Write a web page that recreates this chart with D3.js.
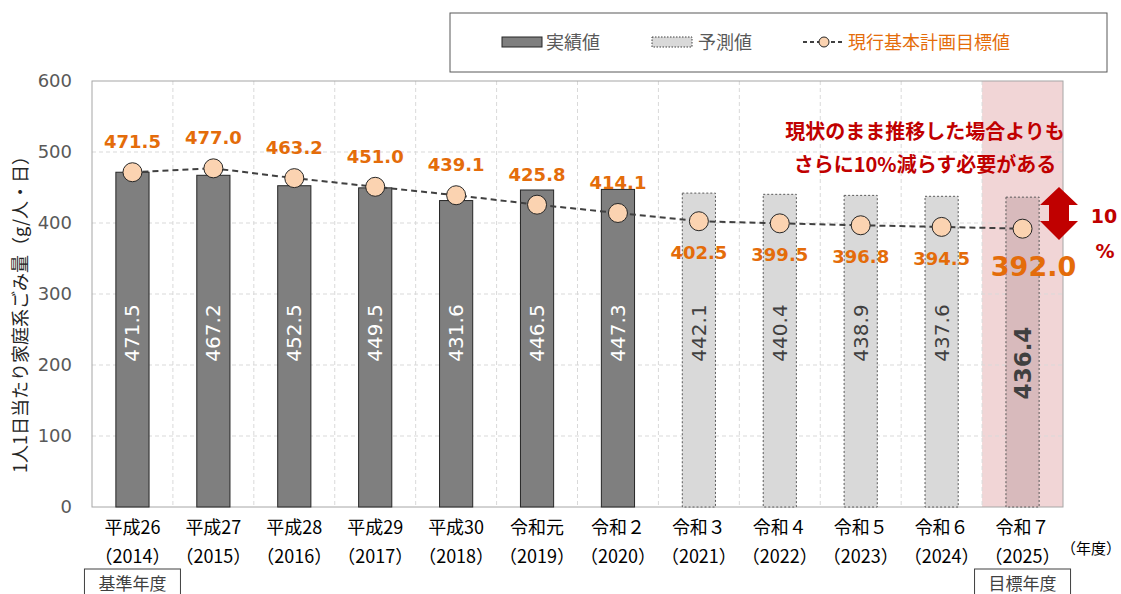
<!DOCTYPE html>
<html>
<head>
<meta charset="utf-8">
<script src="https://cdn.jsdelivr.net/npm/d3@7"></script>
<style>
  body { margin: 0; background: #fff; }
  text { font-family: "DejaVu Sans", "Noto Sans CJK JP", sans-serif; }
  .jp { font-family: "Noto Sans CJK JP", sans-serif; }
</style>
</head>
<body>
<svg id="chart" width="1121" height="594"></svg>
<script>
// categories (two-line labels)
const eraLabels = ['平成26', '平成27', '平成28', '平成29', '平成30', '令和元', '令和２', '令和３', '令和４', '令和５', '令和６', '令和７'];
const yearLabels = ['（2014）', '（2015）', '（2016）', '（2017）', '（2018）', '（2019）', '（2020）', '（2021）', '（2022）', '（2023）', '（2024）', '（2025）'];
// bar values: first 7 actual, rest forecast
const barValues = [471.5, 467.2, 452.5, 449.5, 431.6, 446.5, 447.3, 442.1, 440.4, 438.9, 437.6, 436.4];
const actualCount = 7;
// target line of current basic plan
const targetValues = [471.5, 477.0, 463.2, 451.0, 439.1, 425.8, 414.1, 402.5, 399.5, 396.8, 394.5, 392.0];
const yTicks = [0, 100, 200, 300, 400, 500, 600];

const width = 1121, height = 594;
const margin = { top: 81, right: 58, bottom: 87, left: 92 };
const svg = d3.select('#chart');

const x = d3.scaleBand()
  .domain(d3.range(eraLabels.length))
  .range([margin.left, width - margin.right])
  .paddingInner(0.59).paddingOuter(0.295);
const xCell = d3.scaleBand()
  .domain(d3.range(eraLabels.length))
  .range([margin.left, width - margin.right]);
const y = d3.scaleLinear().domain([0, 600]).range([height - margin.bottom, margin.top]);

const last = eraLabels.length - 1;

// highlight for target year
svg.append('rect')
  .attr('x', xCell(last)).attr('y', y(600))
  .attr('width', xCell.bandwidth()).attr('height', y(0) - y(600))
  .attr('fill', '#f1d5d6');

// grid lines
const grid = svg.append('g');
grid.selectAll('.hg').data(yTicks.slice(1, -1)).join('line')
  .attr('x1', margin.left).attr('x2', width - margin.right)
  .attr('y1', d => y(d)).attr('y2', d => y(d))
  .attr('stroke', '#d9d9d9').attr('stroke-dasharray', '4,3');
grid.selectAll('.vg').data(d3.range(1, eraLabels.length)).join('line')
  .attr('x1', d => xCell(d)).attr('x2', d => xCell(d))
  .attr('y1', y(600)).attr('y2', y(0))
  .attr('stroke', '#d9d9d9').attr('stroke-dasharray', '4,3');

// plot frame
svg.append('rect')
  .attr('x', margin.left).attr('y', y(600))
  .attr('width', width - margin.right - margin.left).attr('height', y(0) - y(600))
  .attr('fill', 'none').attr('stroke', '#a6a6a6').attr('stroke-width', 1);

// bars
svg.selectAll('.bar').data(barValues).join('rect')
  .attr('x', (d, i) => x(i)).attr('y', d => y(d))
  .attr('width', x.bandwidth()).attr('height', d => y(0) - y(d))
  .attr('fill', (d, i) => i < actualCount ? '#7f7f7f' : (i === last ? '#d8babc' : '#d9d9d9'))
  .attr('stroke', (d, i) => i < actualCount ? '#262626' : '#595959')
  .attr('stroke-width', 1)
  .attr('stroke-dasharray', (d, i) => i < actualCount ? null : '2,2');

// bar labels (rotated)
svg.selectAll('.blab').data(barValues).join('text')
  .attr('transform', (d, i) => `translate(${x(i) + x.bandwidth() / 2 + (i === last ? 8 : 7)},${i === last ? 363 : 333}) rotate(-90)`)
  .attr('text-anchor', 'middle')
  .attr('font-size', (d, i) => i === last ? 23 : 20)
  .attr('font-weight', (d, i) => i === last ? 'bold' : 'normal')
  .attr('fill', (d, i) => i < actualCount ? '#fff' : '#404040')
  .text(d => d.toFixed(1));

// target line
const cx = i => x(i) + x.bandwidth() / 2;
svg.append('path')
  .datum(targetValues)
  .attr('d', d3.line().x((d, i) => cx(i)).y(d => y(d)))
  .attr('fill', 'none').attr('stroke', '#404040').attr('stroke-width', 2)
  .attr('stroke-dasharray', '6,4');
svg.selectAll('.pt').data(targetValues).join('circle')
  .attr('cx', (d, i) => cx(i)).attr('cy', d => y(d)).attr('r', 9.5)
  .attr('fill', '#fbd3b1').attr('stroke', '#262626').attr('stroke-width', 1);

svg.selectAll('.tlab').data(targetValues).join('text')
  .attr('x', (d, i) => i === last ? cx(i) + 11 : cx(i))
  .attr('y', (d, i) => i < actualCount ? y(d) - 24 : (i === last ? y(d) + 47 : y(d) + 38))
  .attr('text-anchor', 'middle')
  .attr('font-size', (d, i) => i === last ? 27 : 18)
  .attr('font-weight', 'bold')
  .attr('fill', '#e46c0a')
  .text(d => d.toFixed(1));

// y axis
svg.selectAll('.yt').data(yTicks).join('text')
  .attr('x', 72).attr('y', d => y(d) + 6)
  .attr('text-anchor', 'end').attr('font-size', 18).attr('fill', '#595959')
  .text(d => d);
svg.append('text').attr('class', 'jp')
  .attr('transform', `translate(27,${(y(0) + y(600)) / 2 + 16}) rotate(-90)`)
  .attr('text-anchor', 'middle').attr('font-size', 18).attr('fill', '#262626')
  .text('1人1日当たり家庭系ごみ量（g/人・日）');

// x labels
svg.selectAll('.xl1').data(eraLabels).join('text').attr('class', 'jp')
  .attr('x', (d, i) => xCell(i) + xCell.bandwidth() / 2).attr('y', 534)
  .attr('text-anchor', 'middle').attr('font-size', 18).attr('fill', '#000')
  .text(d => d);
svg.selectAll('.xl2').data(yearLabels).join('text').attr('class', 'jp')
  .attr('x', (d, i) => xCell(i) + xCell.bandwidth() / 2).attr('y', 563)
  .attr('text-anchor', 'middle').attr('font-size', 18).attr('fill', '#000')
  .text(d => d);
svg.append('text').attr('class', 'jp')
  .attr('x', 1091).attr('y', 554).attr('text-anchor', 'middle')
  .attr('font-size', 15).attr('fill', '#000').text('（年度）');

// base / target year boxes
[[0, '基準年度'], [last, '目標年度']].forEach(([i, t]) => {
  const c = xCell(i) + xCell.bandwidth() / 2;
  svg.append('rect').attr('x', c - 48).attr('y', 569).attr('width', 96).attr('height', 32)
    .attr('fill', '#fff').attr('stroke', '#404040');
  svg.append('text').attr('class', 'jp').attr('x', c).attr('y', 590)
    .attr('text-anchor', 'middle').attr('font-size', 17).attr('fill', '#404040').text(t);
});

// annotation
svg.append('text').attr('class', 'jp').attr('x', 925).attr('y', 139)
  .attr('text-anchor', 'middle').attr('font-size', 20).attr('font-weight', 'bold').attr('fill', '#c00000')
  .text('現状のまま推移した場合よりも');
svg.append('text').attr('class', 'jp').attr('x', 925).attr('y', 172)
  .attr('text-anchor', 'middle').attr('font-size', 20).attr('font-weight', 'bold').attr('fill', '#c00000')
  .text('さらに10%減らす必要がある');
// double arrow
const ax = 1059;
svg.append('path')
  .attr('d', `M${ax},187 L${ax + 19},205 L${ax + 10},205 L${ax + 10},221 L${ax + 19},221 L${ax},240 L${ax - 19},221 L${ax - 10},221 L${ax - 10},205 L${ax - 19},205 Z`)
  .attr('fill', '#c00000');
svg.append('text').attr('x', 1104).attr('y', 223).attr('text-anchor', 'middle')
  .attr('font-size', 19).attr('font-weight', 'bold').attr('fill', '#c00000').text('10');
svg.append('text').attr('x', 1105).attr('y', 258).attr('text-anchor', 'middle')
  .attr('font-size', 19).attr('font-weight', 'bold').attr('fill', '#c00000').text('%');

// legend
const lg = svg.append('g');
lg.append('rect').attr('x', 450).attr('y', 13).attr('width', 657).attr('height', 59)
  .attr('fill', '#fff').attr('stroke', '#595959');
lg.append('rect').attr('x', 502).attr('y', 37).attr('width', 40).attr('height', 10)
  .attr('fill', '#7f7f7f').attr('stroke', '#262626');
lg.append('text').attr('class', 'jp').attr('x', 546).attr('y', 49).attr('font-size', 18)
  .attr('fill', '#595959').text('実績値');
lg.append('rect').attr('x', 652).attr('y', 37).attr('width', 40).attr('height', 10)
  .attr('fill', '#d9d9d9').attr('stroke', '#404040').attr('stroke-dasharray', '1.5,1.5');
lg.append('text').attr('class', 'jp').attr('x', 698).attr('y', 49).attr('font-size', 18)
  .attr('fill', '#595959').text('予測値');
lg.append('line').attr('x1', 803).attr('x2', 845).attr('y1', 42).attr('y2', 42)
  .attr('stroke', '#404040').attr('stroke-width', 2).attr('stroke-dasharray', '4,3');
lg.append('circle').attr('cx', 824).attr('cy', 42).attr('r', 5)
  .attr('fill', '#fbd3b1').attr('stroke', '#262626');
lg.append('text').attr('class', 'jp').attr('x', 848).attr('y', 49).attr('font-size', 18)
  .attr('fill', '#e46c0a').text('現行基本計画目標値');
</script>
</body>
</html>
